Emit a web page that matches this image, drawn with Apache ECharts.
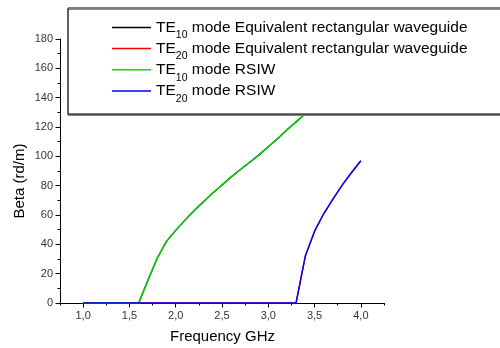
<!DOCTYPE html>
<html>
<head>
<meta charset="utf-8">
<script src="https://cdn.jsdelivr.net/npm/echarts@6/dist/echarts.min.js"></script>
<style>
  html, body { margin: 0; padding: 0; background: #fff; }
  #chart { width: 500px; height: 348px; }
</style>
</head>
<body>
<div id="chart"></div>
<script>
// Frequency sweep (GHz)
const frequency = [1.0, 1.1, 1.2, 1.3, 1.4, 1.5, 1.6, 1.7, 1.8, 1.9, 2.0,
                   2.1, 2.2, 2.3, 2.4, 2.5, 2.6, 2.7, 2.8, 2.9, 3.0,
                   3.1, 3.2, 3.3, 3.4, 3.5, 3.6, 3.7, 3.8, 3.9, 4.0];

// Phase constant beta (rd/m)
const te10Rect = [0, 0, 0, 0, 0, 0, 0, 15.5, 30.5, 42, 49.5,
                  56.5, 63, 69, 75, 80.5, 86, 91, 96, 101, 106.5,
                  112, 118, 123.5, 129, 133.5, 138.5, 143.5, 148, 153, 157];
const te20Rect = [0, 0, 0, 0, 0, 0, 0, 0, 0, 0, 0,
                  0, 0, 0, 0, 0, 0, 0, 0, 0, 0,
                  0, 0, 0, 32, 49, 61, 71, 80.5, 89, 97];
const te10Rsiw = [0, 0, 0, 0, 0, 0, 0, 15.5, 30.5, 42, 49.5,
                  56.5, 63, 69, 75, 80.5, 86, 91, 96, 101, 106.5,
                  112, 118, 123.5, 129, 133.5, 138.5, 143.5, 148, 153, 157];
const te20Rsiw = [0, 0, 0, 0, 0, 0, 0, 0, 0, 0, 0,
                  0, 0, 0, 0, 0, 0, 0, 0, 0, 0,
                  0, 0, 0, 32, 49, 61, 71, 80.5, 89, 97];

const seriesNames = [
  'TE10 mode Equivalent rectangular waveguide',
  'TE20 mode Equivalent rectangular waveguide',
  'TE10 mode RSIW',
  'TE20 mode RSIW'
];
const seriesValues = [te10Rect, te20Rect, te10Rsiw, te20Rsiw];
const seriesColors = ['#000000', '#ff0000', '#00dd00', '#0000ff'];

// Labelled ticks
const xTickValues = [1.0, 1.5, 2.0, 2.5, 3.0, 3.5, 4.0];
const yTickValues = [0, 20, 40, 60, 80, 100, 120, 140, 160, 180];

const chart = echarts.init(document.getElementById('chart'), null, { renderer: 'canvas' });

const axisFont = { fontFamily: 'Arial', fontSize: 11, color: '#333' };

const option = {
  animation: false,
  backgroundColor: '#fff',
  grid: { left: 60, right: 116, top: 39, bottom: 45, containLabel: false },
  xAxis: [
    {
      type: 'value',
      min: 0.75, max: 4.25, interval: 0.25,
      axisLine: { show: true, onZero: false, lineStyle: { color: '#000', width: 1 } },
      axisTick: { show: true, length: 2.5, lineStyle: { color: '#000' } },
      axisLabel: Object.assign({
        margin: 7,
        customValues: xTickValues,
        formatter: v => v.toFixed(1).replace('.', ',')
      }, axisFont),
      splitLine: { show: false }
    },
    {
      type: 'value',
      position: 'bottom',
      min: 0.75, max: 4.25, interval: 0.25,
      axisLine: { show: false },
      axisTick: { show: true, length: 4.5, customValues: xTickValues, lineStyle: { color: '#000' } },
      axisLabel: { show: false },
      splitLine: { show: false }
    }
  ],
  yAxis: {
    type: 'value',
    min: 0, max: 180, interval: 20,
    axisLine: { show: true, lineStyle: { color: '#000', width: 1 } },
    axisTick: { show: true, length: 4.5, lineStyle: { color: '#000' } },
    minorTick: { show: true, splitNumber: 2, length: 2.5, lineStyle: { color: '#000' } },
    axisLabel: Object.assign({
      margin: 7,
      customValues: yTickValues
    }, axisFont),
    splitLine: { show: false }
  },
  legend: {
    orient: 'vertical',
    left: 68, top: 8,
    padding: [11.4, 60, 9.5, 44],
    itemWidth: 39, itemHeight: 1.5,
    itemGap: -0.3,
    icon: 'rect',
    backgroundColor: '#fff',
    borderColor: '#000',
    borderWidth: 1,
    shadowColor: '#888',
    shadowOffsetY: 1.5,
    shadowBlur: 0,
    selectedMode: false,
    data: seriesNames,
    formatter: name => name.replace(/^TE(\d+)(.*)$/, '{a|TE}{s|$1}{a|$2}'),
    textStyle: {
      rich: {
        a: { fontFamily: 'Arial', fontSize: 15.5, color: '#000', lineHeight: 20 },
        s: { fontFamily: 'Arial', fontSize: 10.5, color: '#000', height: 4, lineHeight: 4, verticalAlign: 'bottom' }
      }
    },
    z: 10
  },
  graphic: [
    {
      type: 'text', x: 20, y: 181, rotation: Math.PI / 2,
      style: { text: 'Beta (rd/m)', font: '15px Arial', fill: '#000', align: 'center', verticalAlign: 'middle' }
    },
    {
      type: 'text', x: 222.5, y: 337,
      style: { text: 'Frequency GHz', font: '15px Arial', fill: '#000', align: 'center', verticalAlign: 'middle' }
    }
  ],
  series: seriesNames.map((name, k) => ({
    name: name,
    type: 'line',
    showSymbol: false,
    symbol: 'none',
    color: seriesColors[k],
    lineStyle: { width: 1.4, color: seriesColors[k] },
    data: frequency.map((f, i) => [f, seriesValues[k][i]]),
    z: 2 + k
  }))
};

chart.setOption(option);
</script>
</body>
</html>
